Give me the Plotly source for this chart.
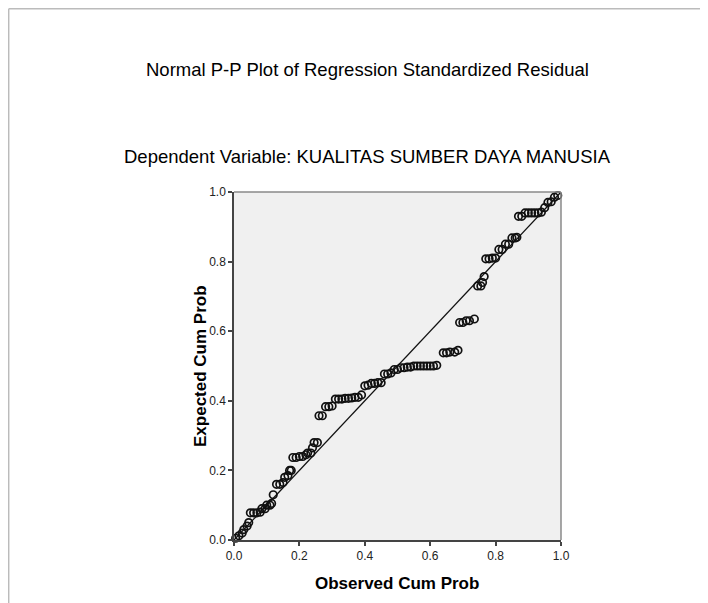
import plotly.graph_objects as go

# Observed cumulative probability (x) and expected cumulative probability (y)
observed = [0.005, 0.015, 0.025, 0.03, 0.04, 0.045,
            0.05, 0.06, 0.07, 0.08,
            0.085, 0.095,
            0.10, 0.11, 0.115,
            0.12,
            0.13, 0.14, 0.15,
            0.155, 0.165,
            0.17, 0.175,
            0.18, 0.19, 0.20, 0.21,
            0.22, 0.225, 0.235,
            0.24, 0.245, 0.255,
            0.26, 0.27,
            0.28, 0.29, 0.30,
            0.31, 0.32, 0.33, 0.34, 0.35, 0.36, 0.37, 0.38,
            0.39,
            0.40, 0.41,
            0.42, 0.43, 0.44, 0.45,
            0.46, 0.47, 0.48,
            0.49, 0.50,
            0.51, 0.52, 0.53, 0.54,
            0.55, 0.56, 0.57, 0.58, 0.59, 0.60, 0.61, 0.62,
            0.64, 0.65, 0.66, 0.675, 0.685,
            0.69, 0.70, 0.71, 0.72, 0.735,
            0.745, 0.755, 0.76, 0.765,
            0.77, 0.78, 0.79, 0.80,
            0.81, 0.82,
            0.83, 0.84,
            0.85, 0.86, 0.865,
            0.87, 0.88,
            0.89, 0.90, 0.91, 0.92, 0.93, 0.94,
            0.95,
            0.96, 0.97,
            0.98, 0.99]
expected = [0.005, 0.012, 0.02, 0.03, 0.04, 0.05,
            0.078, 0.078, 0.078, 0.08,
            0.09, 0.09,
            0.10, 0.10, 0.105,
            0.13,
            0.16, 0.16, 0.165,
            0.18, 0.185,
            0.20, 0.20,
            0.237, 0.237, 0.24, 0.24,
            0.245, 0.25, 0.25,
            0.265, 0.28, 0.28,
            0.357, 0.357,
            0.383, 0.383, 0.385,
            0.405, 0.405, 0.405, 0.407, 0.407, 0.408, 0.41, 0.41,
            0.417,
            0.443, 0.445,
            0.45, 0.45, 0.452, 0.452,
            0.477, 0.477, 0.48,
            0.49, 0.49,
            0.495, 0.495, 0.497, 0.497,
            0.50, 0.50, 0.50, 0.50, 0.50, 0.50, 0.50, 0.502,
            0.538, 0.538, 0.54, 0.54, 0.545,
            0.625, 0.625, 0.63, 0.63, 0.635,
            0.73, 0.73, 0.74, 0.757,
            0.808, 0.808, 0.81, 0.81,
            0.835, 0.835,
            0.85, 0.85,
            0.868, 0.868, 0.87,
            0.93, 0.93,
            0.94, 0.94, 0.94, 0.94, 0.94, 0.942,
            0.955,
            0.97, 0.972,
            0.985, 0.99]

ticks = [0.0, 0.2, 0.4, 0.6, 0.8, 1.0]
tick_text = ["0.0", "0.2", "0.4", "0.6", "0.8", "1.0"]

fig = go.Figure()
fig.add_trace(go.Scatter(x=[0, 1], y=[0, 1], mode="lines",
                         line=dict(color="#111111", width=1.3),
                         hoverinfo="skip", showlegend=False))
fig.add_trace(go.Scatter(x=observed, y=expected, mode="markers",
                         marker=dict(symbol="circle-open", size=7.5,
                                     color="#111111", line=dict(width=1.7)),
                         cliponaxis=False, showlegend=False))

font_family = "Liberation Sans, Arial, sans-serif"
axis_common = dict(range=[0, 1], tickvals=ticks, ticktext=tick_text,
                   ticks="outside", ticklen=4, tickwidth=1.5, tickcolor="#444444",
                   showline=True, linecolor="#444444", linewidth=1.5,
                   showgrid=False, zeroline=False,
                   tickfont=dict(family=font_family, size=12, color="#222222"))

fig.update_layout(
    width=708, height=603,
    margin=dict(l=226, r=155, t=184, b=71),
    paper_bgcolor="white", plot_bgcolor="#f0f0f0",
    font=dict(family=font_family, color="#000000"),
    xaxis=dict(**axis_common),
    yaxis=dict(**axis_common),
    shapes=[
        # frame top/right of plot area
        dict(type="line", xref="paper", yref="paper", x0=0, y0=1, x1=1, y1=1,
             line=dict(color="#8a8a8a", width=1.5)),
        dict(type="line", xref="paper", yref="paper", x0=1, y0=0, x1=1, y1=1,
             line=dict(color="#8a8a8a", width=1.5)),
        # outer page border
        dict(type="line", xref="paper", yref="paper", x0=-0.689, y0=1.5266, x1=1.5, y1=1.5266,
             line=dict(color="#bbbbbb", width=1.5)),
        dict(type="line", xref="paper", yref="paper", x0=-0.689, y0=1.5266, x1=-0.689, y1=-0.25,
             line=dict(color="#bbbbbb", width=1.5)),
    ],
    annotations=[
        dict(text="Normal P-P Plot of Regression Standardized Residual",
             xref="paper", yref="paper", x=0.407, y=1.351, showarrow=False,
             xanchor="center", yanchor="middle",
             font=dict(family=font_family, size=18.5, color="#000000")),
        dict(text="Dependent Variable: KUALITAS SUMBER DAYA MANUSIA",
             xref="paper", yref="paper", x=0.407, y=1.103, showarrow=False,
             xanchor="center", yanchor="middle",
             font=dict(family=font_family, size=18.5, color="#000000")),
        dict(text="<b>Observed Cum Prob</b>",
             xref="paper", yref="paper", x=0.497, y=-0.124, showarrow=False,
             xanchor="center", yanchor="middle",
             font=dict(family=font_family, size=17, color="#000000")),
        dict(text="<b>Expected Cum Prob</b>", textangle=-90,
             xref="paper", yref="paper", x=-0.104, y=0.5, showarrow=False,
             xanchor="center", yanchor="middle",
             font=dict(family=font_family, size=17, color="#000000")),
    ],
)

fig.write_html("out.html")
